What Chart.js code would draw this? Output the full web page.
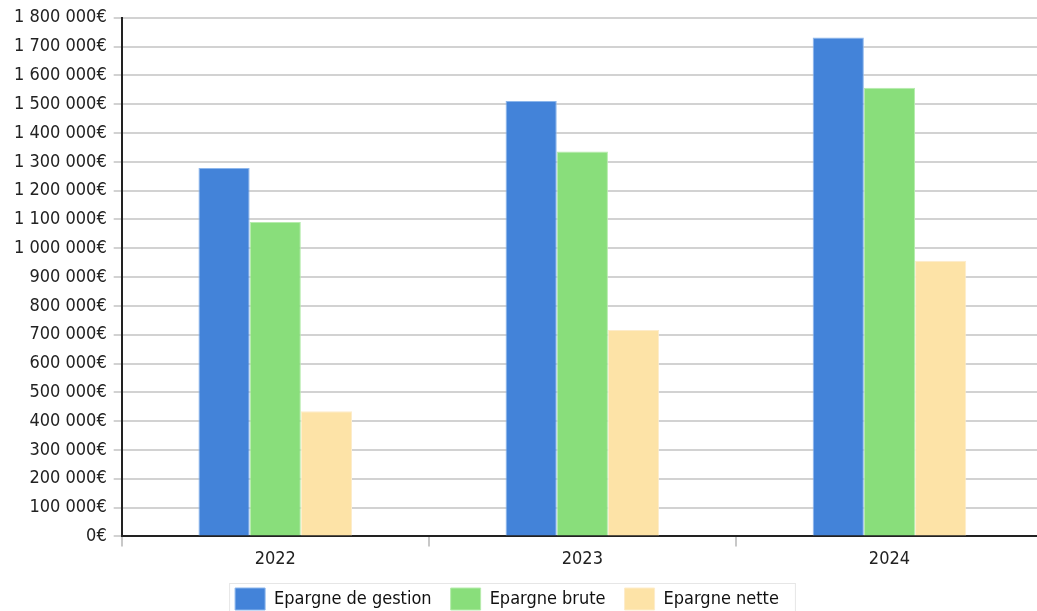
<!DOCTYPE html>
<html><head><meta charset="utf-8">
<script src="https://cdn.jsdelivr.net/npm/chart.js@4/dist/chart.umd.min.js"></script>
<style>
html,body{margin:0;padding:0;background:#fff;overflow:hidden}
#wrap{width:1043px;height:611px;position:relative}
</style>
</head><body>
<div id="wrap"><canvas id="c"></canvas></div>
<script>
// Savings by year (euros)
const years = ['2022', '2023', '2024'];
const epargneGestion = [1279000, 1511000, 1732000];
const epargneBrute = [1091000, 1336000, 1557000];
const epargneNette = [434000, 716000, 957000];
const seriesNames = ['Epargne de gestion', 'Epargne brute', 'Epargne nette'];
const yMax = 1800000;
const yStep = 100000;

const FONT = 'DejaVu Sans Condensed';
const fmtEuro = v => String(v).replace(/\B(?=(\d{3})+(?!\d))/g, ' ') + '€';

// Re-centre the legend on the visible page and frame it with a thin border
const legendFrame = {
  id: 'legendFrame',
  afterLayout(chart) {
    const lg = chart.legend;
    lg.right -= 36;
    lg.top -= 3;
    lg.bottom -= 3;
  },
  afterDraw(chart) {
    const lg = chart.legend;
    const boxes = lg.legendHitBoxes;
    if (!boxes || !boxes.length) return;
    const x0 = Math.min(...boxes.map(b => b.left)) - 6;
    const x1 = Math.max(...boxes.map(b => b.left + b.width)) + 16;
    const y0 = Math.min(...boxes.map(b => b.top)) - 5;
    const ctx = chart.ctx;
    ctx.save();
    ctx.strokeStyle = '#e6e6e6';
    ctx.lineWidth = 1;
    ctx.strokeRect(x0 + 0.5, y0 + 0.5, x1 - x0, chart.height - y0 + 2);
    ctx.restore();
  }
};

new Chart(document.getElementById('c'), {
  type: 'bar',
  data: {
    labels: years,
    datasets: [
      { label: seriesNames[0], data: epargneGestion, backgroundColor: '#4383d9', borderColor: '#8cb6ec', borderWidth: 1 },
      { label: seriesNames[1], data: epargneBrute, backgroundColor: '#89de7b', borderColor: '#b6ecad', borderWidth: 1 },
      { label: seriesNames[2], data: epargneNette, backgroundColor: '#fde3a7', borderColor: '#fdeccb', borderWidth: 1 }
    ]
  },
  options: {
    responsive: true,
    maintainAspectRatio: false,
    animation: false,
    datasets: { bar: { categoryPercentage: 0.5, barPercentage: 1.0 } },
    layout: { padding: { top: 10, left: 7, right: 0, bottom: -12 } },
    plugins: {
      tooltip: { enabled: false },
      legend: {
        position: 'bottom',
        labels: {
          font: { family: FONT, size: 18 },
          color: '#111',
          boxWidth: 30,
          boxHeight: 22,
          padding: 19
        }
      }
    },
    scales: {
      x: {
        offset: true,
        grid: { offset: true, drawOnChartArea: false, drawTicks: true, tickLength: 10, color: '#c8c8c8', lineWidth: 2 },
        border: { display: true, color: '#222', width: 2 },
        ticks: { font: { family: FONT, size: 18 }, color: '#222', padding: 2 }
      },
      y: {
        min: 0,
        max: yMax,
        grid: { color: '#d2d2d2', lineWidth: 2, tickLength: 8 },
        border: { display: true, color: '#222', width: 2 },
        ticks: { stepSize: yStep, font: { family: FONT, size: 18 }, color: '#222', padding: 7, callback: v => fmtEuro(v) }
      }
    }
  },
  plugins: [legendFrame]
});
</script>
</body></html>
